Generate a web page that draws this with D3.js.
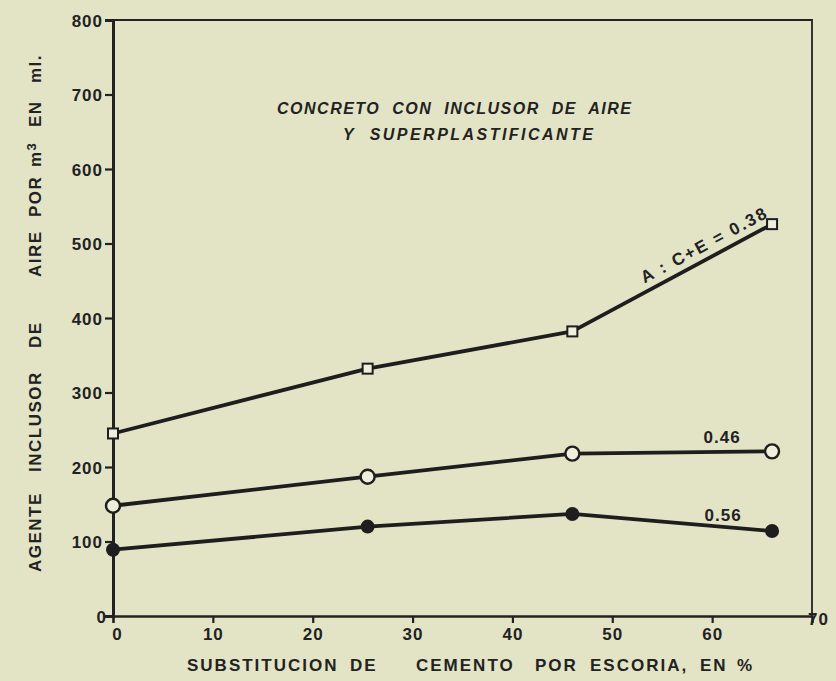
<!DOCTYPE html>
<meta charset="utf-8">
<script src="https://d3js.org/d3.v7.min.js"></script>
<style>
  body { margin: 0; background: #e3e4c6; }
  text { font-family: "Liberation Sans", Arial, sans-serif; font-weight: bold; fill: #222; }
</style>
<div id="chart"></div>
<script>
// Data (x = % slag substitution, y = ml per m3)
const xValues = [0, 25.5, 46, 66];
const s038 = [245, 332, 382, 526];
const s046 = [148, 187, 218, 221];
const s056 = [89, 120, 137, 114];
const seriesNames = ["A : C+E = 0.38", "0.46", "0.56"];
const xTicks = [0, 10, 20, 30, 40, 50, 60, 70];
const yTicks = [0, 100, 200, 300, 400, 500, 600, 700, 800];
const titleLines = ["CONCRETO  CON  INCLUSOR  DE  AIRE", "Y  SUPERPLASTIFICANTE"];
const xTitleWords = ["SUBSTITUCION", "DE", "CEMENTO", "POR", "ESCORIA,", "EN", "%"];
const yTitleWords = ["AGENTE", "INCLUSOR", "DE", "AIRE", "POR", "m", "EN", "ml."];

const W = 836, H = 681;
const mLeft = 113, mRight = 812, mTop = 20, mBottom = 616;

const svg = d3.select("#chart").append("svg")
    .attr("width", W).attr("height", H);

svg.append("rect").attr("width", W).attr("height", H).attr("fill", "#e3e4c6");

const x = d3.scaleLinear().domain([0, 70]).range([mLeft, mRight]);
const y = d3.scaleLinear().domain([0, 800]).range([mBottom, mTop]);

// frame (top and right)
svg.append("path")
    .attr("d", "M" + mLeft + "," + mTop + "H" + mRight + "V" + mBottom)
    .attr("fill", "none").attr("stroke", "#222").attr("stroke-width", 1.8);

// y axis
const yAxis = svg.append("g")
    .attr("transform", "translate(" + mLeft + ",0)")
    .call(d3.axisLeft(y).tickValues(yTicks).tickSize(8).tickPadding(2));
yAxis.select(".domain").attr("stroke-width", 3).attr("stroke", "#222");
yAxis.selectAll(".tick line").attr("stroke-width", 2.2).attr("stroke", "#222");
yAxis.selectAll(".tick text").style("font-size", "17px").style("letter-spacing", "1px")
    .attr("fill", "#222").attr("dy", "0.36em");
yAxis.selectAll(".tick").filter(d => d === 0).select("text").attr("x", -6);
yAxis.selectAll(".tick").filter(d => d === 0).select("line").remove();

// x axis
const xAxis = svg.append("g")
    .attr("transform", "translate(0," + mBottom + ")")
    .call(d3.axisBottom(x).tickValues(xTicks).tickSize(7).tickPadding(5));
xAxis.select(".domain").attr("stroke-width", 2.6).attr("stroke", "#222");
xAxis.selectAll(".tick line").attr("stroke-width", 2.2).attr("stroke", "#222");
xAxis.selectAll(".tick text").style("font-size", "17px").style("letter-spacing", "1px")
    .attr("fill", "#222");
xAxis.selectAll(".tick").filter(d => d === 0 || d === 70).select("line").remove();
xAxis.selectAll(".tick").filter(d => d === 0).select("text").attr("dx", 4);
xAxis.selectAll(".tick").filter(d => d === 70).select("text").attr("dx", 6).attr("dy", "-0.2em");

// lines
const line = d3.line().x((d, i) => x(xValues[i])).y(d => y(d));
[s038, s046, s056].forEach(s => {
  svg.append("path").datum(s).attr("d", line)
      .attr("fill", "none").attr("stroke", "#1e1e1e").attr("stroke-width", 3.8)
      .attr("stroke-linejoin", "round");
});

// markers
svg.selectAll(".sq").data(s038).enter().append("rect")
    .attr("x", (d, i) => x(xValues[i]) - 5).attr("y", d => y(d) - 5)
    .attr("width", 10).attr("height", 10)
    .attr("fill", "#eef0dc").attr("stroke", "#1e1e1e").attr("stroke-width", 2);
svg.selectAll(".oc").data(s046).enter().append("circle")
    .attr("cx", (d, i) => x(xValues[i])).attr("cy", d => y(d)).attr("r", 7)
    .attr("fill", "#eef0dc").attr("stroke", "#1e1e1e").attr("stroke-width", 2.4);
svg.selectAll(".fc").data(s056).enter().append("circle")
    .attr("cx", (d, i) => x(xValues[i])).attr("cy", d => y(d)).attr("r", 7)
    .attr("fill", "#1e1e1e");

// series labels
const p2 = [x(xValues[2]), y(s038[2])], p3 = [x(xValues[3]), y(s038[3])];
const ang = Math.atan2(p3[1] - p2[1], p3[0] - p2[0]) * 180 / Math.PI;
const t = 0.38;
svg.append("text")
    .attr("transform", "translate(" + (p2[0] + t * (p3[0] - p2[0])) + "," +
          (p2[1] + t * (p3[1] - p2[1])) + ") rotate(" + ang + ")")
    .attr("dy", -8).attr("textLength", 140).attr("lengthAdjust", "spacing")
    .style("font-size", "17px")
    .attr("xml:space", "preserve").text(seriesNames[0]);
svg.append("text").attr("x", x(xValues[3]) - 50).attr("y", y(s046[3]) - 8)
    .attr("text-anchor", "middle").style("font-size", "17px").style("letter-spacing", "1px")
    .text(seriesNames[1]);
svg.append("text").attr("x", x(xValues[3]) - 49).attr("y", y(s056[3]) - 10)
    .attr("text-anchor", "middle").style("font-size", "17px").style("letter-spacing", "1px")
    .text(seriesNames[2]);

// title
svg.append("text").attr("x", 277).attr("y", 114)
    .attr("textLength", 354).attr("lengthAdjust", "spacing")
    .style("font-size", "16px").style("font-style", "italic")
    .attr("xml:space", "preserve").text(titleLines[0]);
svg.append("text").attr("x", 343).attr("y", 140)
    .attr("textLength", 250).attr("lengthAdjust", "spacing")
    .style("font-size", "16px").style("font-style", "italic")
    .attr("xml:space", "preserve").text(titleLines[1]);

// x axis title, words placed as in the original
const xWordStart = [187, 350, 416, 535, 590, 700, 737];
const xt = svg.append("text").attr("y", 671)
    .style("font-size", "17px").style("letter-spacing", "2px");
xTitleWords.forEach((w, i) => xt.append("tspan").attr("x", xWordStart[i]).text(w));

// y axis title (rotated), word start positions measured from the bottom
const yWordStart = [572, 472, 348, 277, 217, 167, 127, 83];
const yt = svg.append("text")
    .attr("transform", "translate(41,0) rotate(-90)")
    .style("font-size", "17px").style("letter-spacing", "1.5px");
yTitleWords.forEach((w, i) => {
  yt.append("tspan").attr("x", -yWordStart[i]).attr("y", 0).text(w);
  if (w === "m") yt.append("tspan").attr("dy", -5).style("font-size", "13px").text("3");
});
</script>
